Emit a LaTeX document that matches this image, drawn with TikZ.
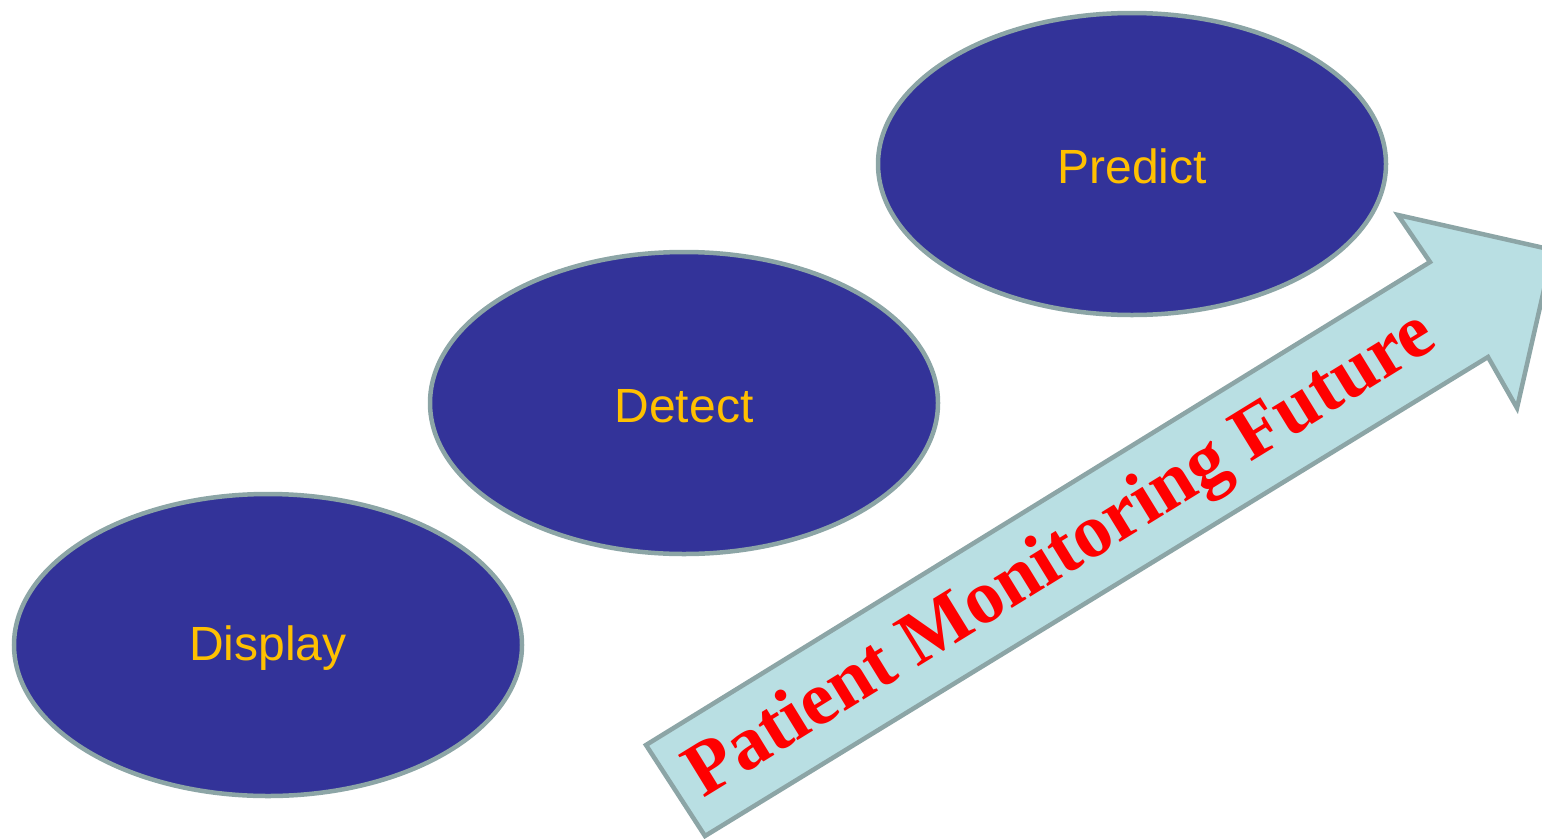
\documentclass[tikz,border=0pt]{standalone}
\usepackage{fontspec}
\setmainfont{Liberation Serif}
\newfontfamily\labelfont{Liberation Sans}
\definecolor{ellfill}{HTML}{333399}
\definecolor{ellline}{HTML}{8CA5A6}
\definecolor{labelcol}{HTML}{FFC000}
\definecolor{arrfill}{HTML}{B9DFE3}
\definecolor{arrline}{HTML}{8CA5A6}
\tikzset{
  stage/.style={ellipse, draw=ellline, line width=4.5pt, fill=ellfill,
    minimum width=508pt, minimum height=302pt, inner sep=0pt,
    text=labelcol, font=\labelfont\fontsize{48}{56}\selectfont},
  bigarrow/.style={draw=arrline, line width=4.5pt, fill=arrfill, line join=miter},
  arrtext/.style={text=red, font=\bfseries\fontsize{76}{80}\selectfont, rotate=31.6}
}
\usetikzlibrary{shapes.geometric}
\begin{document}
\begin{tikzpicture}[x=1pt,y=-1pt]
\useasboundingbox (0,0) rectangle (1542,838);
\clip (0,0) rectangle (1542,838);
\node[stage] (display) at (268,645) {};
\node[stage] (detect) at (684,403) {};
\node[stage] (predict) at (1132,164) {};
\node[text=labelcol, font=\labelfont\fontsize{48}{56}\selectfont] (displaylabel) at (268,648) {Display};
\node[text=labelcol, font=\labelfont\fontsize{48}{56}\selectfont] (detectlabel) at (684,406) {Detect};
\node[text=labelcol, font=\labelfont\fontsize{48}{56}\selectfont] (predictlabel) at (1132,166) {Predict};
\draw[bigarrow] (646,745) -- (1430,262) -- (1398,215) -- (1553,250) -- (1517,408) -- (1488,357) -- (705,836) -- cycle;
\node[arrtext] (future) at (1062,557) {Patient Monitoring Future};
\end{tikzpicture}
\end{document}
